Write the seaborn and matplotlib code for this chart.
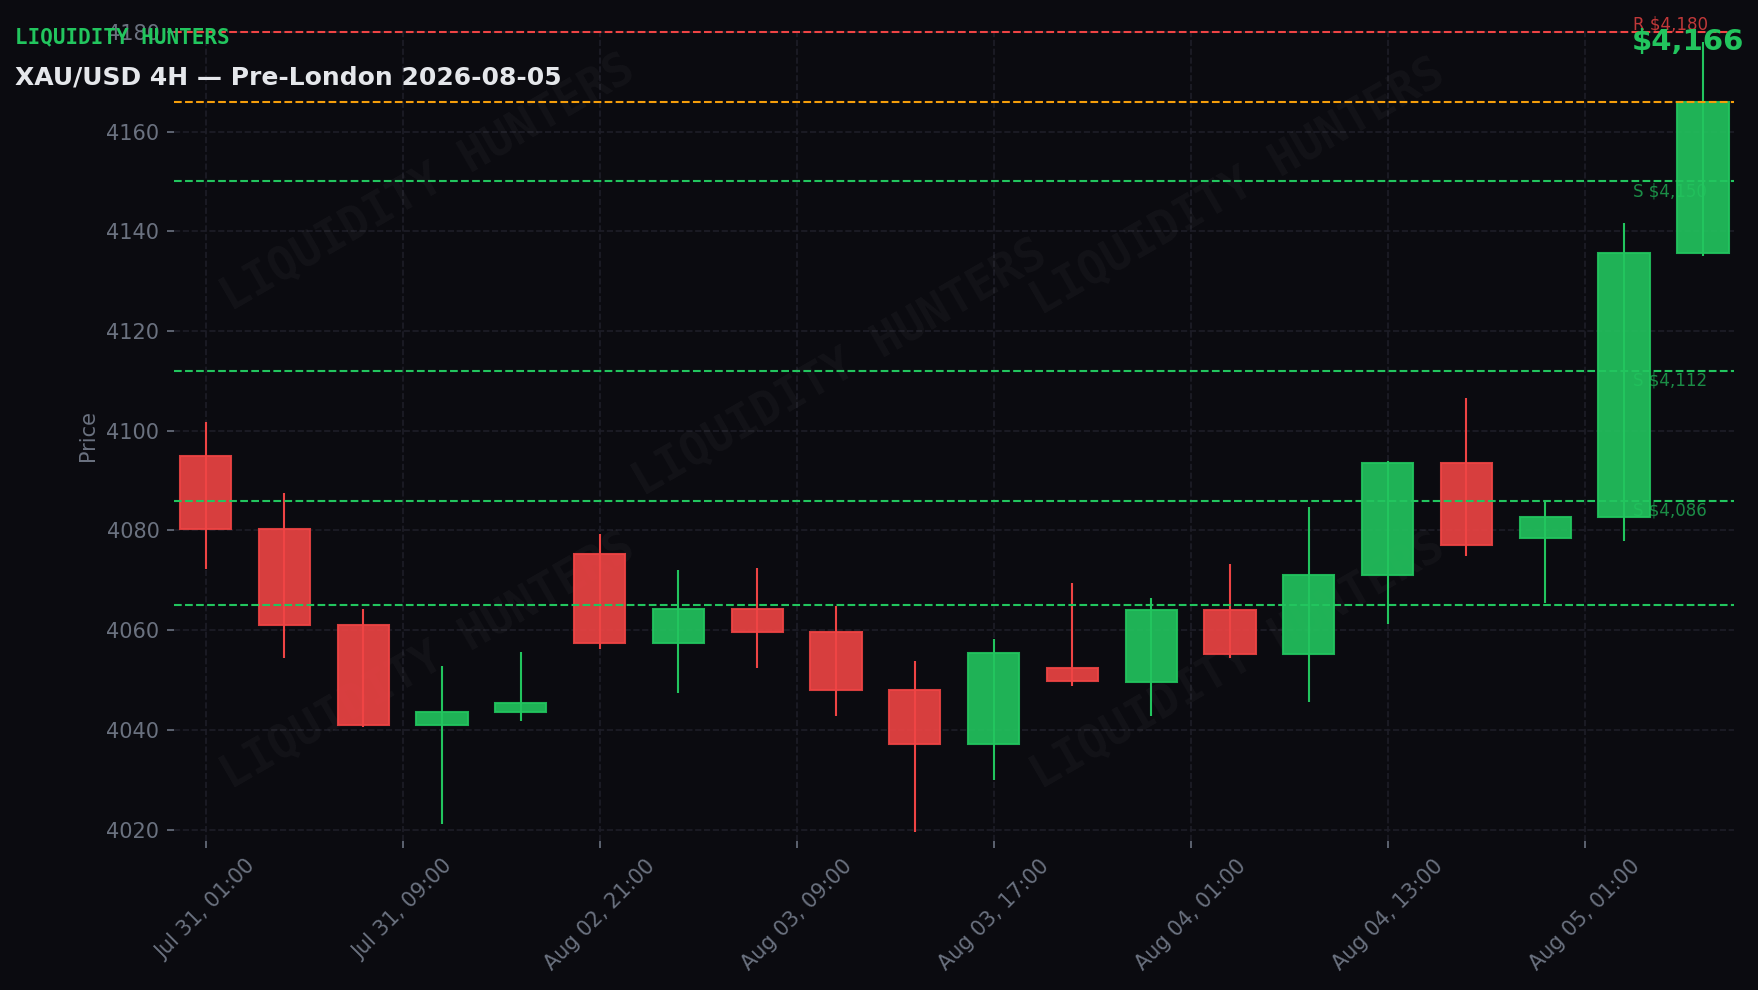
import numpy as np
import pandas as pd
import matplotlib
matplotlib.use('Agg')
import matplotlib.pyplot as plt
import matplotlib.transforms as mtransforms
import seaborn as sns

# 4H candles
opens = [4095.0, 4080.3, 4061.1, 4040.9, 4043.6, 4075.3, 4057.5, 4064.3, 4059.6, 4048.0,
         4037.2, 4052.4, 4049.5, 4064.0, 4055.3, 4071.1, 4093.6, 4078.4, 4082.7, 4135.6]
highs = [4101.7, 4087.6, 4064.3, 4052.8, 4055.7, 4079.3, 4072.1, 4072.4, 4064.9, 4053.9,
         4058.2, 4069.4, 4066.5, 4073.3, 4084.7, 4093.9, 4106.5, 4086.1, 4141.6, 4178.0]
lows = [4072.3, 4054.4, 4040.6, 4021.1, 4041.8, 4056.2, 4047.4, 4052.4, 4042.7, 4019.5,
        4029.9, 4048.8, 4042.7, 4054.4, 4045.6, 4061.3, 4074.8, 4065.4, 4077.8, 4135.0]
closes = [4080.2, 4061.1, 4040.9, 4043.6, 4045.4, 4057.5, 4064.3, 4059.6, 4048.0, 4037.2,
          4055.5, 4049.7, 4064.0, 4055.3, 4071.1, 4093.6, 4077.1, 4082.7, 4135.6, 4166.0]

tick_labels = ['Jul 31, 01:00', 'Jul 31, 09:00', 'Aug 02, 21:00', 'Aug 03, 09:00',
               'Aug 03, 17:00', 'Aug 04, 01:00', 'Aug 04, 13:00', 'Aug 05, 01:00']

resistance = 4180
current_price = 4166
supports = [4150, 4112, 4086]
extra_support = 4065

BG = '#0b0b10'
GREEN = '#22c55e'
RED = '#ef4444'
ORANGE = '#f59e0b'
MUTED = '#6b7280'

sns.set_theme(style='dark', rc={
    'figure.facecolor': BG, 'axes.facecolor': BG, 'savefig.facecolor': BG,
    'axes.edgecolor': BG, 'text.color': '#e5e7eb',
    'xtick.color': MUTED, 'ytick.color': MUTED, 'axes.labelcolor': MUTED,
    'xtick.bottom': True, 'ytick.left': True,
})
plt.rcParams['font.family'] = ['DejaVu Sans']

df = pd.DataFrame({'open': opens, 'high': highs, 'low': lows, 'close': closes})
df['idx'] = np.arange(len(df))
df['up'] = df['close'] >= df['open']

fig, ax = plt.subplots(figsize=(11.72, 6.6), dpi=150)
fig.subplots_adjust(left=0.099, right=0.9866, top=0.970, bottom=0.1505)

for _, r in df.iterrows():
    col = GREEN if r['up'] else RED
    ax.vlines(r['idx'], r['low'], r['high'], color=col, lw=1.0, zorder=2)
    lo = min(r['open'], r['close'])
    ax.bar(r['idx'], abs(r['close'] - r['open']), bottom=lo, width=0.65,
           color=col, alpha=0.9, edgecolor=col, linewidth=1.0, zorder=3)

# levels
ax.axhline(resistance, color=RED, ls='--', lw=1.0, zorder=4)
ax.axhline(current_price, color=ORANGE, ls='--', lw=1.0, zorder=4)
for s in supports + [extra_support]:
    ax.axhline(s, color=GREEN, ls='--', lw=1.0, zorder=4)

trans = mtransforms.blended_transform_factory(ax.transAxes, ax.transData)
ax.text(0.935, resistance - 0.3, f'R ${resistance:,}', transform=trans, color=RED,
        alpha=0.8, fontsize=8, ha='left', va='bottom', zorder=5)
for s in supports:
    ax.text(0.935, s - 0.2, f'S ${s:,}', transform=trans, color=GREEN,
            alpha=0.7, fontsize=8, ha='left', va='top', zorder=5)

# watermark
for wx, wy in [(0.163, 0.81), (0.427, 0.582), (0.682, 0.806), (0.163, 0.222), (0.682, 0.222)]:
    ax.text(wx, wy, 'LIQUIDITY HUNTERS', transform=ax.transAxes, rotation=30,
            fontsize=22, family='DejaVu Sans Mono', fontweight='bold',
            color='white', alpha=0.035, ha='center', va='center', zorder=1)

ax.set_xlim(-0.4, 19.4)
ax.set_ylim(4017.7, 4180.45)
ax.set_xticks(np.arange(0, 20, 2.5))
ax.set_xticklabels(tick_labels, rotation=45, fontsize=10)
ax.set_yticks(np.arange(4020, 4181, 20))
ax.tick_params(axis='y', labelsize=10, length=3.5, width=0.8)
ax.tick_params(axis='x', length=3.5, width=0.8)
ax.set_ylabel('Price', fontsize=10)
ax.set_xlabel('')
ax.grid(True, color='#1e1e28', ls='--', lw=0.8, zorder=0)
ax.set_axisbelow(True)
for sp in ax.spines.values():
    sp.set_visible(False)

fig.text(0.0085, 0.962, 'LIQUIDITY HUNTERS', color=GREEN, fontsize=10,
         family='DejaVu Sans Mono', fontweight='bold', ha='left', va='center')
fig.text(0.0085, 0.922, 'XAU/USD 4H — Pre-London 2026-08-05', color='#e5e7eb',
         fontsize=12, fontweight='bold', ha='left', va='center')
fig.text(0.992, 0.958, f'${current_price:,}', color=GREEN, fontsize=14,
         fontweight='bold', ha='right', va='center')

fig.savefig('out.png', dpi=150, facecolor=BG)
